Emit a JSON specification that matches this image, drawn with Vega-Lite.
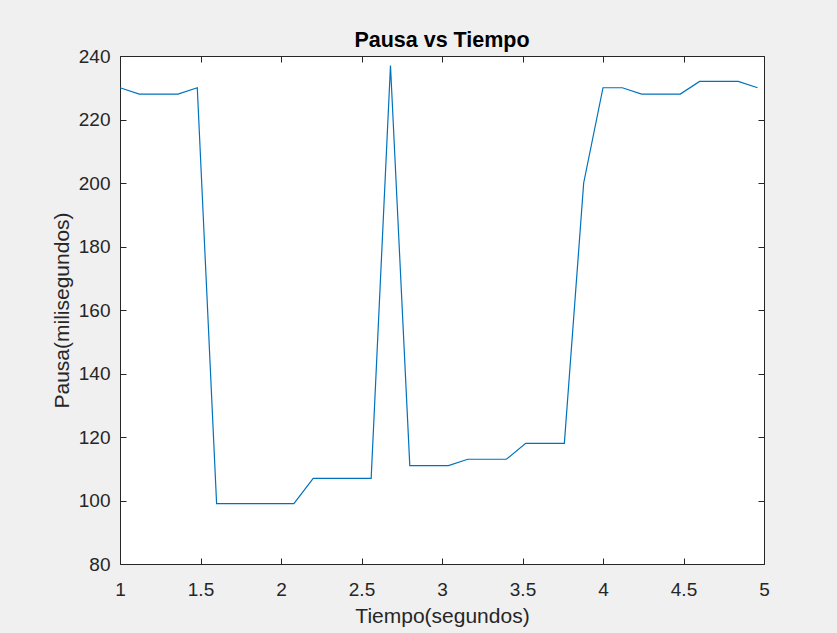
{
  "$schema": "https://vega.github.io/schema/vega-lite/v6.json",
  "width": 644,
  "height": 508,
  "autosize": {"type": "none"},
  "padding": {"left": 120, "top": 56, "right": 73, "bottom": 69},
  "background": "#f0f0f0",
  "title": {"text": "Pausa vs Tiempo", "font": "Liberation Sans", "fontSize": 21.5, "fontWeight": "bold", "color": "#000000", "offset": -4, "anchor": "middle"},
  "data": {"values": [
    {"t": 1.00, "p": 230}, {"t": 1.12, "p": 228}, {"t": 1.24, "p": 228}, {"t": 1.36, "p": 228},
    {"t": 1.48, "p": 230}, {"t": 1.60, "p": 99}, {"t": 1.72, "p": 99}, {"t": 1.84, "p": 99},
    {"t": 1.96, "p": 99}, {"t": 2.08, "p": 99}, {"t": 2.20, "p": 107}, {"t": 2.32, "p": 107},
    {"t": 2.44, "p": 107}, {"t": 2.56, "p": 107}, {"t": 2.68, "p": 237}, {"t": 2.80, "p": 111},
    {"t": 2.92, "p": 111}, {"t": 3.04, "p": 111}, {"t": 3.16, "p": 113}, {"t": 3.28, "p": 113},
    {"t": 3.40, "p": 113}, {"t": 3.52, "p": 118}, {"t": 3.64, "p": 118}, {"t": 3.76, "p": 118},
    {"t": 3.88, "p": 200}, {"t": 4.00, "p": 230}, {"t": 4.12, "p": 230}, {"t": 4.24, "p": 228},
    {"t": 4.36, "p": 228}, {"t": 4.48, "p": 228}, {"t": 4.60, "p": 232}, {"t": 4.72, "p": 232},
    {"t": 4.84, "p": 232}, {"t": 4.96, "p": 230}
  ]},
  "layer": [
    {
      "mark": {"type": "line", "color": "#0072BD", "strokeWidth": 1.2},
      "encoding": {
        "x": {"field": "t", "type": "quantitative", "scale": {"domain": [1, 5], "nice": false, "zero": false},
              "axis": {"orient": "bottom", "values": [1, 1.5, 2, 2.5, 3, 3.5, 4, 4.5, 5], "format": "~g", "title": "Tiempo(segundos)", "titlePadding": 6, "labelPadding": 22}},
        "y": {"field": "p", "type": "quantitative", "scale": {"domain": [80, 240], "nice": false, "zero": false},
              "axis": {"orient": "left", "values": [80, 100, 120, 140, 160, 180, 200, 220, 240], "title": "Pausa(milisegundos)", "titlePadding": 6, "labelPadding": 16}}
      }
    },
    {
      "mark": {"type": "line", "strokeOpacity": 0},
      "encoding": {
        "x": {"field": "t", "type": "quantitative", "scale": {"domain": [1, 5], "nice": false, "zero": false},
              "axis": {"orient": "top", "values": [1, 1.5, 2, 2.5, 3, 3.5, 4, 4.5, 5], "labels": false, "title": null}},
        "y": {"field": "p", "type": "quantitative", "scale": {"domain": [80, 240], "nice": false, "zero": false},
              "axis": {"orient": "right", "values": [80, 100, 120, 140, 160, 180, 200, 220, 240], "labels": false, "title": null}}
      }
    }
  ],
  "resolve": {"axis": {"x": "independent", "y": "independent"}},
  "config": {
    "view": {"fill": "white", "stroke": null},
    "axis": {
      "grid": false,
      "domainColor": "#262626",
      "domainWidth": 1,
      "tickColor": "#262626",
      "tickSize": -6,
      "tickWidth": 1,
      "labelColor": "#262626",
      "labelFont": "Liberation Sans",
      "labelFontSize": 19,
      "labelOverlap": false,
      "labelFlush": false,
      "titleColor": "#262626",
      "titleFont": "Liberation Sans",
      "titleFontSize": 21,
      "titleFontWeight": "normal"
    }
  }
}
